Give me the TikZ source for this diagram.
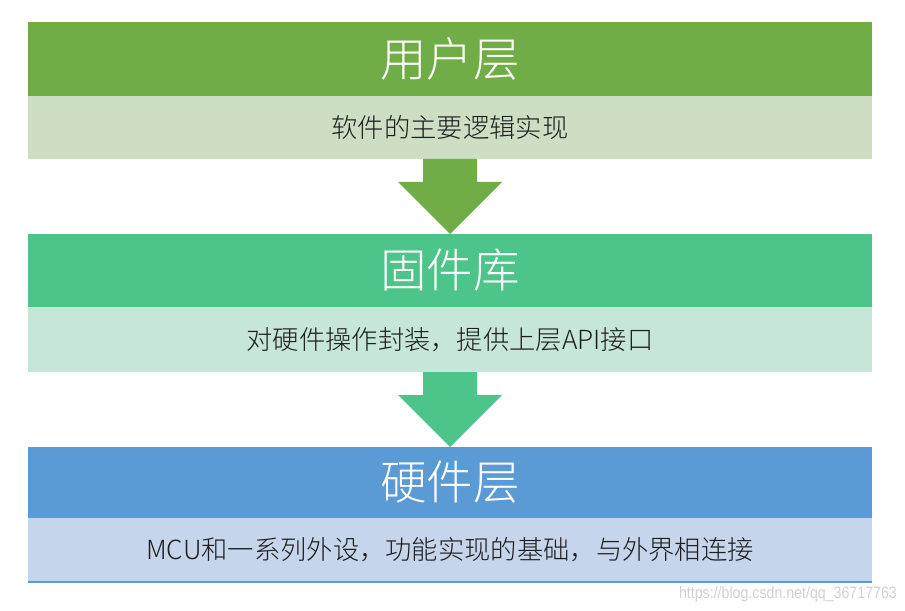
\documentclass[tikz,border=0pt]{standalone}
\usepackage{fontspec}
\setmainfont{Noto Sans CJK SC}
\newfontfamily\lightcjk{Noto Sans CJK SC Light}
\newfontfamily\wmfont{Liberation Sans}
\usetikzlibrary{calc}
\definecolor{hA}{HTML}{70AD47}
\definecolor{sA}{HTML}{CEDEC3}
\definecolor{hB}{HTML}{4DC48A}
\definecolor{sB}{HTML}{C6E7D8}
\definecolor{hC}{HTML}{5B9BD5}
\definecolor{sC}{HTML}{C5D5EB}
\definecolor{txt}{HTML}{1E1E1E}
\begin{document}
\begin{tikzpicture}[x=1bp,y=-1bp,
  band/.style={rectangle, inner sep=0pt, outer sep=0pt, minimum width=844bp, anchor=north west},
  hdr/.style={band, text=white, font=\lightcjk\fontsize{46.5bp}{50bp}\selectfont},
  sub/.style={band, text=txt, font=\lightcjk\fontsize{26.3bp}{30bp}\selectfont}]
\fill[white] (0,0) rectangle (905,611);
\useasboundingbox (0,0) rectangle (905,611);
% block 1
\node[hdr, fill=hA, minimum height=74bp] (h1) at (28,22) {用户层};
\node[sub, fill=sA, minimum height=63bp] (s1) at (28,96) {软件的主要逻辑实现};
% block 2
\node[hdr, fill=hB, minimum height=73bp] (h2) at (28,234) {固件库};
\node[sub, fill=sB, minimum height=65bp] (s2) at (28,307) {对硬件操作封装，提供上层API接口};
% block 3
\node[hdr, fill=hC, minimum height=71bp] (h3) at (28,447) {硬件层};
\node[sub, fill=sC, minimum height=64bp] (s3) at (28,518) {MCU和一系列外设，功能实现的基础，与外界相连接};
\draw[hC, line width=2.2bp] (s3.south west) -- (s3.south east);
% arrows
\fill[hA] ($(s1.south)+(-27,0)$) -- ($(s1.south)+(27,0)$) -- ($(s1.south)+(27,23)$)
  -- ($(s1.south)+(52,23)$) -- (h2.north) -- ($(s1.south)+(-52,23)$) -- ($(s1.south)+(-27,23)$) -- cycle;
\fill[hB] ($(s2.south)+(-27,0)$) -- ($(s2.south)+(27,0)$) -- ($(s2.south)+(27,23)$)
  -- ($(s2.south)+(52,23)$) -- (h3.north) -- ($(s2.south)+(-52,23)$) -- ($(s2.south)+(-27,23)$) -- cycle;
% watermark
\node[anchor=east, inner sep=0pt, text=black!18, font=\wmfont\fontsize{16.5bp}{18bp}\selectfont, xscale=0.86] (wm) at (897,594) {https://blog.csdn.net/qq\_36717763};
\end{tikzpicture}
\end{document}
